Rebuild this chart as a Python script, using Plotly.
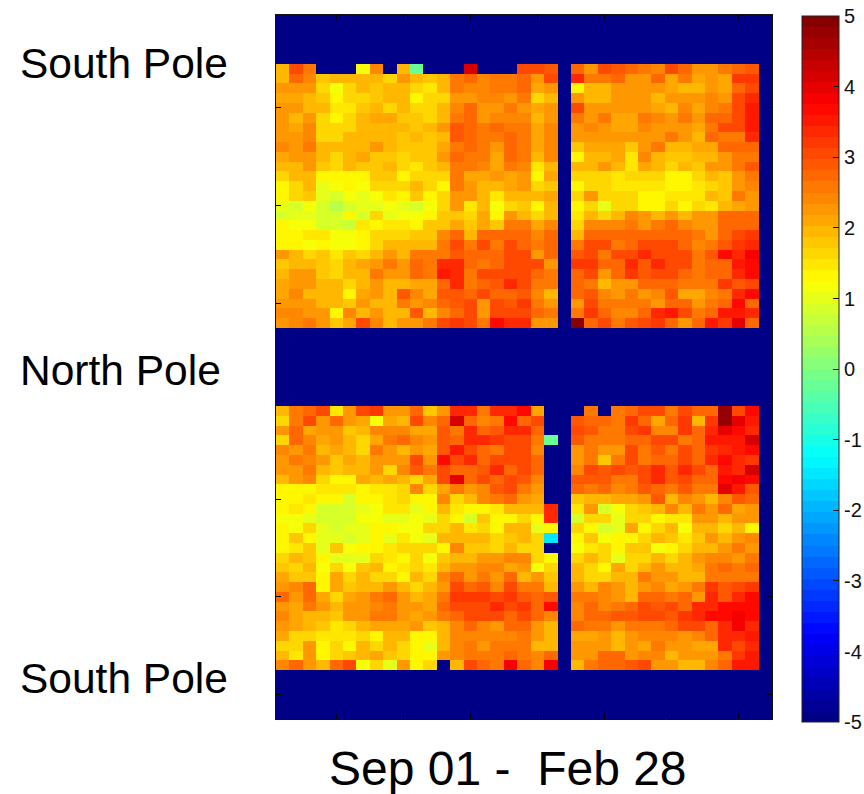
import plotly.graph_objects as go

# -5 is the "no data" level, drawn dark blue
N = -5.0
ROWS_TOTAL = 72
COLS_TOTAL = 37
colorbar_ticks = [5, 4, 3, 2, 1, 0, -1, -2, -3, -4, -5]
tick_step = 5
y_tick_step = 10
pole_labels = ["South Pole", "North Pole", "South Pole"]
date_label = "Sep 01 -\u00a0\u00a0Feb 28"

upper_block = [
[1.9,3.0,2.6,N,N,N,1.1,2.4,N,1.9,-0.3,N,N,N,4.1,N,N,N,3.0,3.0,2.9,N,2.8,2.3,3.1,2.9,2.8,2.5,2.4,3.0,2.7,2.2,2.2,2.5,2.8,2.9],
[1.9,2.8,2.4,1.8,1.9,1.9,1.9,2.0,1.7,2.3,1.9,1.8,1.9,2.5,2.7,2.4,2.6,2.5,2.8,2.2,3.0,N,3.4,2.6,2.6,2.7,2.2,2.3,2.7,2.1,2.5,2.1,2.3,2.1,3.2,3.2],
[2.2,2.2,2.3,1.6,1.1,1.7,2.0,1.8,2.0,2.0,1.7,1.5,1.9,2.5,2.4,2.4,2.6,2.6,2.7,2.1,2.2,N,1.25,2.0,2.0,2.2,2.2,2.3,2.3,2.1,1.9,1.9,2.3,2.1,2.8,3.0],
[2.1,2.1,1.9,1.8,1.25,1.6,1.6,1.8,2.0,1.9,1.25,1.6,1.7,2.3,2.3,2.4,2.4,2.3,2.6,1.7,1.9,N,2.3,1.9,1.9,2.2,2.3,2.3,1.9,2.2,2.2,2.3,2.4,2.2,3.0,3.3],
[2.2,2.3,1.9,1.9,1.5,1.5,1.8,2.0,1.7,1.9,1.7,1.7,2.0,2.4,2.7,2.2,2.2,2.6,2.3,2.1,2.2,N,3.0,2.2,2.2,2.2,2.2,2.3,2.1,2.0,2.4,2.1,2.4,2.6,3.1,3.5],
[2.2,1.9,2.2,1.6,1.25,1.6,1.9,2.1,2.1,1.8,1.8,1.7,1.9,2.5,2.7,2.3,2.4,2.4,2.4,2.0,2.3,N,2.6,2.3,2.5,2.1,2.1,2.6,2.4,2.3,2.5,2.3,2.7,2.8,3.1,3.5],
[2.2,2.1,2.4,1.7,1.6,1.7,2.0,2.0,2.0,1.9,1.8,2.0,2.3,2.9,2.8,2.5,2.7,2.5,2.6,2.1,2.4,N,2.2,2.4,2.2,2.1,2.1,2.4,2.3,2.3,2.3,2.1,2.6,3.0,3.1,3.5],
[2.2,2.2,2.4,1.7,1.6,1.9,2.0,2.0,2.0,1.8,2.0,1.8,2.0,2.9,2.8,2.5,2.5,2.8,2.5,2.1,2.4,N,2.3,2.3,2.3,2.3,2.2,2.3,2.3,2.5,2.3,1.9,2.7,2.5,2.5,3.3],
[2.4,2.3,2.5,2.0,1.9,2.0,2.0,2.2,2.0,1.8,1.8,1.8,2.1,2.5,2.7,2.5,2.3,2.8,2.5,2.1,2.4,N,1.8,2.1,2.1,2.1,1.8,2.3,2.5,1.9,1.9,2.1,2.1,2.7,2.7,2.8],
[2.1,2.3,2.2,1.9,1.6,2.0,2.1,1.8,1.8,1.6,1.8,1.8,2.2,2.8,2.5,2.5,2.1,2.7,2.5,1.9,2.4,N,1.3,2.0,2.0,2.1,1.5,2.4,2.0,1.8,1.8,2.0,2.0,2.2,2.5,2.5],
[1.9,1.9,2.2,1.8,1.6,2.0,1.8,1.8,1.9,1.6,1.5,1.8,1.9,2.6,2.5,2.4,2.1,2.5,2.4,1.5,1.9,N,2.0,2.0,2.2,1.9,1.5,2.1,1.9,1.7,1.9,1.8,2.3,2.3,2.5,2.9],
[1.6,2.0,1.9,1.25,1.25,1.25,1.25,1.8,1.8,1.25,1.6,1.6,1.6,2.6,2.1,2.1,2.3,2.1,2.2,1.4,2.1,N,1.6,1.7,1.7,1.5,1.7,1.7,1.7,1.4,1.4,1.6,2.0,1.8,2.3,2.5],
[1.25,1.7,2.0,1.0,1.15,1.25,1.1,1.6,1.7,1.7,1.9,1.7,1.25,2.5,2.2,2.0,1.9,2.1,2.3,1.6,1.8,N,1.4,1.7,1.7,1.5,1.5,1.5,1.5,1.3,1.3,1.5,1.7,1.8,2.3,2.4],
[1.25,1.7,1.8,1.0,0.9,1.2,1.0,1.1,1.5,1.25,1.8,1.25,1.6,2.2,2.2,1.9,1.5,2.0,2.0,1.9,2.1,N,1.6,2.2,1.7,1.7,1.7,1.4,1.3,1.5,1.5,1.5,1.9,1.8,2.5,2.2],
[1.0,0.9,1.15,0.8,0.5,0.9,1.0,1.0,1.1,1.0,0.9,1.15,1.6,2.3,1.5,1.9,1.2,1.7,1.8,1.25,1.9,N,1.25,1.6,1.0,1.6,1.6,1.4,1.4,1.7,1.25,1.6,1.5,2.0,2.1,2.2],
[0.9,1.0,1.0,0.8,0.8,1.25,0.9,1.7,1.0,1.1,1.1,1.4,1.8,1.8,1.6,2.1,1.3,2.2,1.9,1.7,2.0,N,1.5,1.9,1.7,1.9,2.4,2.2,1.9,2.2,2.0,2.2,2.2,2.8,2.7,2.8],
[1.4,1.2,1.1,0.8,0.8,0.7,1.5,1.25,1.5,1.5,1.3,1.8,1.8,2.1,1.8,2.1,1.8,2.6,2.5,2.1,2.4,N,1.7,2.4,2.4,2.4,2.5,2.3,2.5,2.7,2.4,2.3,2.3,2.8,2.8,2.8],
[1.4,1.4,1.5,1.5,1.2,1.1,1.4,1.7,1.7,1.7,1.8,1.8,2.4,2.7,2.0,2.8,2.7,2.7,2.8,2.4,2.7,N,1.9,2.7,2.7,2.7,2.7,2.7,2.7,2.7,2.8,2.6,2.2,2.7,3.0,3.2],
[1.4,1.4,1.1,1.25,1.15,1.15,1.4,1.6,1.9,1.9,1.9,2.0,2.6,3.0,2.6,3.0,2.6,3.0,2.8,2.6,2.8,N,2.5,3.0,3.0,2.6,2.7,3.0,3.0,3.0,2.8,2.4,2.5,2.9,3.2,3.4],
[2.2,1.9,1.6,1.8,1.5,1.8,1.6,2.0,2.3,1.9,2.6,2.6,2.6,2.9,2.8,2.8,2.8,3.1,3.0,2.3,2.8,N,2.9,3.1,2.5,3.1,3.1,3.3,3.1,3.1,3.1,2.6,2.9,3.6,3.4,3.9],
[1.8,1.9,2.0,1.8,1.6,1.9,2.1,2.3,2.6,2.3,2.7,2.5,3.3,3.3,2.7,2.6,2.8,3.1,3.0,3.0,2.3,N,3.2,3.2,2.8,2.7,3.3,2.9,3.3,3.1,3.1,2.6,2.7,2.7,3.5,3.7],
[1.9,2.3,2.2,1.8,1.6,1.9,1.9,2.5,2.3,2.3,2.7,2.5,3.5,3.3,2.6,3.0,3.0,3.1,3.0,2.8,2.5,N,2.7,3.0,2.2,2.8,3.2,2.9,3.0,3.1,2.8,2.6,2.7,2.7,3.4,3.6],
[2.1,2.2,2.2,1.9,1.9,1.7,2.0,2.2,2.0,2.0,2.1,2.1,2.8,3.3,2.6,2.7,2.9,3.3,3.0,2.6,2.5,N,2.7,2.5,2.0,2.3,2.3,2.8,2.8,2.8,2.6,2.6,2.6,3.2,2.9,3.1],
[2.1,2.4,1.9,1.9,1.9,1.35,2.1,2.2,1.9,2.9,2.4,2.1,2.9,2.9,2.7,3.0,2.8,2.8,2.9,2.4,1.9,N,2.7,2.9,2.4,2.3,2.5,2.3,2.4,2.9,2.1,2.1,2.4,2.5,3.3,3.6],
[2.3,2.3,2.3,1.9,1.9,1.8,2.3,2.0,2.0,2.5,2.2,2.4,2.8,2.9,3.0,2.3,3.0,2.9,3.2,2.5,2.3,N,2.3,3.0,2.6,2.6,2.5,2.5,2.3,2.8,2.8,2.2,2.5,2.8,3.7,2.7],
[2.4,2.4,2.3,2.3,1.4,2.4,1.9,2.2,2.0,2.0,2.9,2.0,2.4,2.8,3.0,2.3,3.0,3.0,3.0,2.8,2.6,N,2.6,3.2,2.8,2.4,2.4,2.7,3.3,3.5,3.0,2.5,2.8,3.5,3.5,3.3],
[2.2,2.4,2.6,2.2,1.8,2.1,3.0,2.4,2.0,2.2,2.2,2.5,3.0,3.2,3.1,2.6,3.7,3.4,3.3,2.3,2.3,N,5.0,2.7,3.0,2.6,2.9,3.1,3.2,2.8,2.3,2.7,3.5,3.2,4.0,2.7],
]

lower_block = [
[2.0,2.6,2.8,3.0,1.5,2.2,3.0,3.2,2.2,2.3,2.8,1.8,2.3,3.4,3.4,2.5,3.4,3.3,3.6,2.1,N,N,N,2.5,N,2.6,2.8,3.0,3.1,2.5,3.0,2.7,2.7,4.8,3.1,3.6],
[1.7,2.5,3.0,2.2,2.8,2.2,2.1,1.1,2.1,1.9,3.1,2.4,2.7,4.1,2.8,2.4,2.5,3.7,2.7,3.0,N,N,2.9,2.7,2.8,2.6,3.2,2.8,2.1,2.7,3.2,2.0,3.2,4.8,4.0,3.5],
[2.3,2.8,2.1,2.2,2.2,1.8,2.0,2.4,2.4,2.4,2.1,2.1,2.9,2.5,3.3,2.8,2.9,3.4,3.3,2.8,N,N,3.0,2.9,2.5,2.5,3.1,3.2,2.4,2.4,3.2,2.8,3.3,4.0,3.7,3.4],
[1.7,2.8,2.4,2.1,2.2,2.0,1.6,2.1,2.5,2.7,2.4,2.2,2.9,2.8,3.3,3.4,3.2,3.0,3.1,2.6,-0.3,N,2.9,2.6,2.5,2.6,2.7,2.7,3.0,3.0,2.5,2.7,3.5,3.5,3.5,4.1],
[2.4,2.2,2.6,1.9,2.1,1.9,1.6,2.5,2.3,2.0,2.2,2.1,2.9,3.5,3.0,2.8,2.6,3.0,3.0,2.4,N,N,2.3,2.6,2.2,2.3,3.0,2.6,2.9,2.6,3.0,2.7,3.2,3.3,3.5,3.7],
[2.3,2.5,2.4,2.2,1.8,2.1,2.0,2.2,2.3,2.2,3.0,2.3,3.7,3.1,3.3,2.7,3.1,3.0,3.0,2.7,N,N,2.3,2.6,1.8,2.5,3.0,2.6,2.8,2.7,3.0,2.7,3.3,3.7,3.4,3.2],
[2.2,2.3,2.5,2.0,1.8,2.0,2.0,2.3,1.7,2.4,2.9,2.5,3.0,2.7,2.7,2.9,3.3,2.7,3.0,2.7,N,N,2.4,3.1,2.9,3.1,2.9,3.0,3.4,2.9,3.3,3.0,2.8,3.5,3.4,4.1],
[1.9,2.3,2.4,1.7,1.4,1.25,2.1,1.9,2.1,2.0,1.6,2.1,3.0,4.0,2.8,3.0,2.7,3.1,2.9,2.4,N,N,2.9,2.9,2.9,2.6,2.6,3.0,3.4,2.9,3.1,2.7,2.7,3.6,3.9,3.7],
[1.25,1.35,1.25,1.5,1.5,1.5,1.25,1.5,1.5,1.7,2.4,1.6,2.1,2.6,2.3,2.4,2.9,3.0,2.6,2.3,N,N,2.7,2.5,2.8,2.4,2.5,2.9,2.8,2.5,2.9,2.6,2.6,4.0,3.5,2.9],
[1.35,1.4,1.5,1.25,1.25,0.9,1.25,1.25,1.5,1.7,1.4,1.4,2.4,1.6,2.0,2.4,2.5,2.8,2.3,2.1,N,N,1.8,1.9,1.9,2.1,2.1,2.3,2.9,2.0,2.4,2.3,2.0,2.4,2.9,2.8],
[1.25,1.5,1.25,0.9,0.85,0.85,0.95,1.1,1.5,1.5,0.95,1.4,2.0,1.5,1.3,1.3,1.5,1.9,1.9,1.9,3.4,N,1.5,2.2,0.9,1.1,1.6,1.8,1.9,2.4,1.9,2.6,2.3,2.7,2.1,2.3],
[1.1,1.1,1.05,0.9,0.9,0.8,1.1,1.1,1.0,1.0,1.1,0.95,1.6,1.25,0.85,1.8,1.25,1.25,1.7,1.25,3.3,N,0.8,1.6,1.6,1.0,1.6,1.7,1.25,1.5,1.5,2.3,2.3,2.0,2.3,2.3],
[1.25,1.1,1.7,1.0,0.8,0.95,1.05,1.25,1.25,1.1,1.1,1.6,1.6,1.9,1.5,1.6,1.35,2.0,2.0,1.0,1.3,N,1.7,1.25,0.9,1.0,2.1,1.4,1.6,1.9,1.1,2.0,1.9,1.6,2.0,1.25],
[1.25,1.8,1.25,1.05,1.0,0.8,1.0,1.25,0.95,1.5,1.1,1.05,2.0,2.0,1.9,1.9,1.6,1.8,1.9,1.6,-1.5,N,1.4,1.8,1.1,1.4,1.4,1.6,1.9,1.8,1.5,1.8,2.2,1.9,2.2,2.4],
[1.25,1.5,1.8,0.95,1.8,1.1,1.25,1.25,1.5,1.7,1.7,1.7,1.25,2.4,1.8,1.8,1.6,2.0,1.6,1.6,N,N,1.1,1.5,1.7,1.4,1.8,1.8,1.15,1.4,1.6,1.9,2.0,2.2,2.5,2.3],
[1.7,2.0,1.8,1.25,1.0,1.05,0.95,1.6,1.5,1.25,1.6,1.1,1.8,2.0,1.9,2.3,2.2,2.4,2.4,1.7,1.4,N,1.7,1.9,1.6,1.0,1.7,1.7,1.9,1.7,2.0,2.2,2.4,2.4,2.2,2.5],
[1.8,1.6,2.0,1.1,1.7,1.15,1.8,2.0,1.3,1.5,1.7,1.5,1.9,2.2,2.2,2.4,2.4,2.1,2.3,1.1,1.7,N,2.0,1.7,1.3,2.1,1.7,2.0,2.2,2.0,2.0,2.1,2.5,2.7,2.5,2.8],
[2.1,1.8,1.8,1.25,2.1,1.7,1.9,1.6,1.6,1.4,1.9,1.7,2.4,2.8,2.3,2.5,2.3,2.8,2.0,2.2,1.8,N,1.9,1.7,1.6,1.9,1.9,2.5,2.2,2.2,1.9,2.0,2.6,2.5,2.5,2.6],
[2.2,2.4,2.7,1.4,2.1,1.8,1.9,1.9,2.2,1.9,1.6,2.0,2.2,3.1,2.8,2.9,2.4,3.0,2.6,2.5,2.0,N,2.3,2.0,2.4,2.2,2.0,2.2,2.4,2.1,2.2,2.6,3.2,2.9,3.0,3.2],
[2.7,2.2,2.8,2.1,1.7,2.1,2.2,2.5,2.8,2.2,1.9,2.1,2.5,3.2,3.2,3.2,3.0,3.2,2.9,2.7,2.9,N,2.6,2.5,2.4,2.2,1.9,2.7,2.8,2.6,2.7,2.2,3.3,2.9,3.3,3.6],
[2.2,2.1,2.5,2.2,1.9,2.2,2.2,2.4,2.6,2.3,2.3,2.1,2.7,3.0,3.1,3.1,3.3,3.0,3.2,2.7,3.6,N,2.4,2.7,2.4,2.6,2.8,3.1,2.9,3.1,2.8,3.4,3.3,3.6,3.7,3.7],
[2.4,2.1,2.0,2.0,1.8,2.2,2.2,2.6,2.6,2.3,2.1,2.2,2.5,2.8,3.0,3.0,3.0,2.8,3.0,2.8,2.4,N,2.4,2.8,2.7,2.9,2.9,3.1,3.1,2.9,3.2,3.4,3.6,3.6,3.75,3.7],
[2.2,2.1,1.9,1.8,1.5,1.7,2.0,2.1,2.1,2.1,2.2,1.8,2.0,2.4,2.8,2.4,2.2,2.8,2.8,2.2,1.9,N,2.7,2.5,2.5,2.2,2.6,2.6,2.6,2.8,3.0,3.1,2.8,3.3,3.75,3.4],
[2.1,1.7,1.6,1.5,1.5,1.5,1.6,1.4,2.0,2.0,1.4,1.4,2.0,2.4,2.4,2.4,2.4,2.4,2.6,2.3,2.0,N,2.1,2.1,2.3,1.9,2.3,2.4,2.4,2.4,2.2,2.4,2.7,3.4,3.4,3.5],
[1.6,1.6,2.2,1.25,1.7,1.25,1.9,1.6,1.9,1.7,1.3,1.05,2.0,2.4,2.6,2.2,2.6,2.5,2.5,2.0,2.0,N,2.2,2.2,2.2,1.9,2.2,2.1,2.5,2.3,2.3,2.1,2.1,3.4,3.0,3.4],
[1.9,1.5,2.3,1.25,1.7,1.8,1.9,2.1,1.8,1.6,1.35,1.25,2.2,2.4,2.6,2.6,2.6,2.8,2.6,2.4,2.8,N,2.3,2.3,2.8,2.7,2.3,2.4,2.4,2.0,2.2,2.2,2.2,2.5,3.2,3.5],
[2.4,2.7,2.2,2.0,2.7,3.0,1.1,1.7,1.0,2.3,1.4,1.6,N,2.0,3.0,2.7,2.5,3.8,2.7,2.4,3.8,N,1.9,2.6,2.8,2.8,2.9,3.0,2.3,2.3,2.0,2.0,2.4,2.7,3.5,3.5],
]

for block in (upper_block, lower_block):
    for row in block:
        assert len(row) == 36, len(row)

blank_row = [N] * COLS_TOTAL
z = (
    [blank_row] * 5
    + [row + [N] for row in upper_block]
    + [blank_row] * 8
    + [row + [N] for row in lower_block]
    + [blank_row] * 5
)
assert len(z) == ROWS_TOTAL


def jet(t):
    def ch(v):
        return round(255 * max(0.0, min(1.0, v)))
    return f"rgb({ch(1.5 - abs(4 * t - 3))},{ch(1.5 - abs(4 * t - 2))},{ch(1.5 - abs(4 * t - 1))})"


LEVELS = 64
jet_scale = []
for i in range(LEVELS):
    c = jet((i + 0.5) / LEVELS)
    jet_scale.append([i / LEVELS, c])
    jet_scale.append([(i + 1) / LEVELS, c])

W, H = 864, 794
L, R, T, B = 275.5, 772, 15, 719.5


def px(x):
    return (x - L) / (R - L)


def py(y):
    return 1 - (y - T) / (B - T)


CB_TOP, CB_BOTTOM = 17, 722.7
CB_LEFT, CB_RIGHT = 802, 839

fig = go.Figure(
    go.Heatmap(
        z=z,
        x=list(range(1, COLS_TOTAL + 1)),
        y=list(range(1, ROWS_TOTAL + 1)),
        zmin=-5,
        zmax=5,
        colorscale=jet_scale,
        hoverinfo="skip",
        colorbar=dict(
            thickness=CB_RIGHT - CB_LEFT,
            thicknessmode="pixels",
            len=CB_BOTTOM - CB_TOP,
            lenmode="pixels",
            x=px(CB_LEFT),
            xanchor="left",
            xpad=0,
            y=py(CB_BOTTOM),
            yanchor="bottom",
            ypad=0,
            outlinecolor="#222",
            outlinewidth=1,
            tickmode="array",
            tickvals=colorbar_ticks,
            ticktext=[str(v) for v in colorbar_ticks],
            ticks="inside",
            ticklen=6,
            tickcolor="#111",
            tickfont=dict(family="Liberation Sans Narrow, Liberation Sans", size=20, color="#111"),
        ),
    )
)

# ticks on the left edge of the colour bar (the library draws only the right ones)
for v in colorbar_ticks[1:-1]:
    yy = CB_TOP + (5 - v) / 10 * (CB_BOTTOM - CB_TOP)
    fig.add_shape(
        type="line", xref="paper", yref="paper",
        x0=px(CB_LEFT), x1=px(CB_LEFT + 6), y0=py(yy), y1=py(yy),
        line=dict(color="#111", width=1),
    )

font = "Liberation Sans, Arial"
annotations = []
for text, yc in zip(pole_labels, (64, 371, 679)):
    annotations.append(
        dict(text=text, x=px(17), y=py(yc), xref="paper", yref="paper", xanchor="left", yanchor="middle",
             showarrow=False, font=dict(family=font, size=42.5, color="#000"))
    )
annotations.append(
    dict(text=date_label, x=px(508), y=py(769), xref="paper", yref="paper", xanchor="center", yanchor="middle",
         showarrow=False, font=dict(family=font, size=48, color="#000"))
)

axis = dict(
    showline=True, linecolor="#111", linewidth=1, mirror="ticks",
    ticks="inside", ticklen=5, tickcolor="#000", tickwidth=1,
    showticklabels=False, showgrid=False, zeroline=False, automargin=False,
)
fig.update_layout(
    width=W,
    height=H,
    margin=dict(l=L, r=W - R, t=T, b=H - B, pad=0, autoexpand=False),
    paper_bgcolor="white",
    plot_bgcolor="white",
    xaxis=dict(axis, range=[0.5, COLS_TOTAL + 0.5], tickmode="linear", tick0=tick_step, dtick=tick_step),
    yaxis=dict(axis, range=[ROWS_TOTAL + 0.5, 0.5], tickmode="linear", tick0=y_tick_step, dtick=y_tick_step),
    annotations=annotations,
    showlegend=False,
)

fig.write_html("out.html", post_script="document.body.style.margin='0';", config={"displayModeBar": False})
